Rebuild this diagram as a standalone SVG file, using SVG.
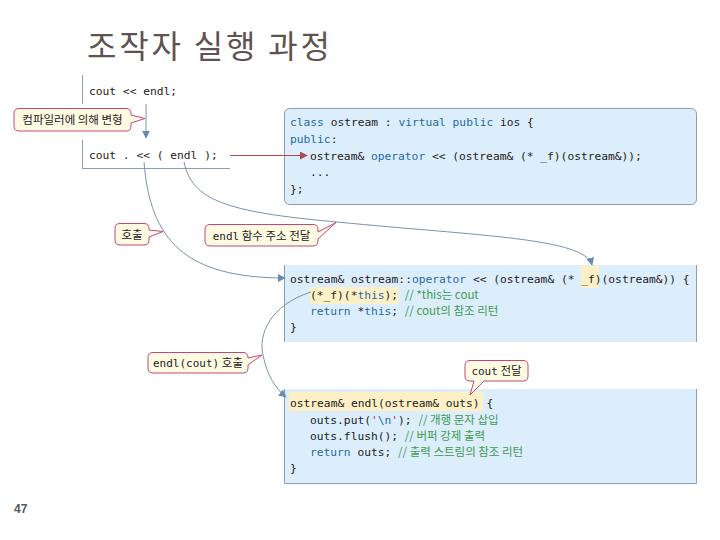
<svg xmlns="http://www.w3.org/2000/svg" width="720" height="540" viewBox="0 0 720 540">
<style>
.code{font-family:"DejaVu Sans Mono","Liberation Mono",monospace;font-size:11.25px;fill:#1c1c1c}
.kw{fill:#1f6aa5}
.cm{fill:#3f9a50;font-family:"Noto Sans CJK KR","Noto Sans",sans-serif;font-size:11.5px}
.str{fill:#c0392b}
.box{fill:#dcedfb;stroke:none}
.edge{stroke:#8a9fb4;stroke-width:1;fill:none}
.hl{fill:#fdf0c6}
.call{fill:#fffbe3;stroke:#c2487a;stroke-width:1}
.ct{font-family:"Noto Sans CJK KR","Noto Sans",sans-serif;font-size:11.5px;fill:#222;text-anchor:middle}
.mono{font-family:"DejaVu Sans Mono","Liberation Mono",monospace;font-size:11px}
.conn{fill:none;stroke:#7892ad;stroke-width:1}
</style>
<defs>
<marker id="ah" viewBox="0 0 10 10" refX="9" refY="5" markerWidth="8" markerHeight="8" markerUnits="userSpaceOnUse" orient="auto">
<path d="M0,0 L10,5 L0,10 Z" fill="#6a8ab0"/>
</marker>
<marker id="ahr" viewBox="0 0 10 10" refX="9" refY="5" markerWidth="8" markerHeight="8" markerUnits="userSpaceOnUse" orient="auto">
<path d="M0,0 L10,5 L0,10 Z" fill="#b04848"/>
</marker>
</defs>
<rect width="720" height="540" fill="#ffffff"/>

<text x="87" y="58" font-family="'Noto Sans CJK KR','Noto Sans',sans-serif" font-size="32" fill="#5e5350" textLength="243" lengthAdjust="spacing">조작자 실행 과정</text>

<g id="source">
<line class="edge" x1="82.5" y1="75" x2="82.5" y2="104"/>
<line class="edge" x1="82.5" y1="140" x2="82.5" y2="168.5"/>
<line class="edge" x1="82" y1="168.5" x2="230" y2="168.5"/>
<text class="code" x="89" y="95">cout &lt;&lt; endl;</text>
<text class="code" x="89" y="159">cout . &lt;&lt; ( endl );</text>
</g>

<g id="class-box">
<rect x="284.5" y="108.5" width="412" height="96" rx="5" fill="#dcedfb" stroke="#8a9fb4"/>
<text class="code" x="290" y="126"><tspan class="kw">class</tspan> ostream : <tspan class="kw">virtual</tspan> <tspan class="kw">public</tspan> ios {</text>
<text class="code" x="290" y="143"><tspan class="kw">public</tspan>:</text>
<text class="code" x="310" y="160">ostream&amp; <tspan class="kw">operator</tspan> &lt;&lt; (ostream&amp; (* _f)(ostream&amp;));</text>
<text class="code" x="310" y="176">...</text>
<text class="code" x="290" y="193">};</text>
</g>

<g id="operator-box">
<rect class="box" x="284" y="265" width="413" height="77"/>
<line class="edge" x1="284.5" y1="265" x2="284.5" y2="342"/>
<line class="edge" x1="696.5" y1="265" x2="696.5" y2="342"/>
<rect class="hl" x="581" y="266" width="18" height="22"/>
<rect class="hl" x="310" y="287" width="88" height="17"/>
<text class="code" x="290" y="283">ostream&amp; ostream::<tspan class="kw">operator</tspan> &lt;&lt; (ostream&amp; (* _f)(ostream&amp;)) {</text>
<text class="code" x="310" y="299">(*_f)(*<tspan class="kw">this</tspan>); <tspan class="cm">// *this는 cout</tspan></text>
<text class="code" x="310" y="315"><tspan class="kw">return</tspan> *<tspan class="kw">this</tspan>; <tspan class="cm">// cout의 참조 리턴</tspan></text>
<text class="code" x="290" y="331">}</text>
</g>

<g id="endl-box">
<rect class="box" x="284" y="389" width="413" height="94"/>
<path class="edge" d="M284.5,389 V483.5 H696.5 V389"/>
<rect class="hl" x="289" y="392" width="194" height="19"/>
<text class="code" x="290" y="407">ostream&amp; endl(ostream&amp; outs) {</text>
<text class="code" x="310" y="424">outs.put(<tspan class="str">'</tspan><tspan class="kw">\n</tspan><tspan class="str">'</tspan>); <tspan class="cm">// 개행 문자 삽입</tspan></text>
<text class="code" x="310" y="440">outs.flush(); <tspan class="cm">// 버퍼 강제 출력</tspan></text>
<text class="code" x="310" y="456"><tspan class="kw">return</tspan> outs; <tspan class="cm">// 출력 스트림의 참조 리턴</tspan></text>
<text class="code" x="290" y="472">}</text>
</g>

<g id="connectors">
<path class="conn" d="M146,104 V138" marker-end="url(#ah)"/>
<path d="M230,155.5 H307" fill="none" stroke="#b04848" stroke-width="1" marker-end="url(#ahr)"/>
<path class="conn" d="M144,162 C150,240 185,278 285,278" marker-end="url(#ah)"/>
<path class="conn" d="M184,162 C192,200 225,212 337,222 C480,236 585,238 592,265" marker-end="url(#ah)"/>
<path class="conn" d="M311,292 C270,305 258,335 263,355 C267,375 275,388 286,397" marker-end="url(#ah)"/>
</g>

<g id="callout-compile">
<path class="call" d="M19,108.5 H126 Q131,108.5 131,113.5 V115 L145,118.5 L131,123 V126 Q131,131 126,131 H19 Q14,131 14,126 V113.5 Q14,108.5 19,108.5 Z"/>
<text class="ct" x="72.5" y="124">컴파일러에 의해 변형</text>
</g>

<g id="callout-call">
<path class="call" d="M120,223.5 H144 Q149,223.5 149,228.5 V230 L163,231.5 L149,237 V240 Q149,245 144,245 H120 Q115,245 115,240 V228.5 Q115,223.5 120,223.5 Z"/>
<text class="ct" x="132" y="238.5">호출</text>
</g>

<g id="callout-address">
<path class="call" d="M210,224.5 H313 Q318,224.5 318,229.5 V232 L336,222.5 L318,239 V241 Q318,246 313,246 H210 Q205,246 205,241 V229.5 Q205,224.5 210,224.5 Z"/>
<text class="ct" x="261.5" y="239.5"><tspan class="mono">endl</tspan> 함수 주소 전달</text>
</g>

<g id="callout-endl-call">
<path class="call" d="M153,352.5 H243 Q248,352.5 248,357.5 V358 L262,355 L248,365 V368 Q248,373 243,373 H153 Q148,373 148,368 V357.5 Q148,352.5 153,352.5 Z"/>
<text class="ct" x="198" y="367"><tspan class="mono">endl(cout)</tspan> 호출</text>
</g>

<g id="callout-cout">
<path class="call" d="M470,360.5 H523 Q528,360.5 528,365.5 V376 Q528,381 523,381 H484 L470,395 L474,381 H470 Q465,381 465,376 V365.5 Q465,360.5 470,360.5 Z"/>
<text class="ct" x="496.5" y="375"><tspan class="mono">cout</tspan> 전달</text>
</g>

<text x="14" y="513" font-family="'Liberation Sans',Arial,sans-serif" font-size="12" font-weight="bold" fill="#555">47</text>
</svg>
